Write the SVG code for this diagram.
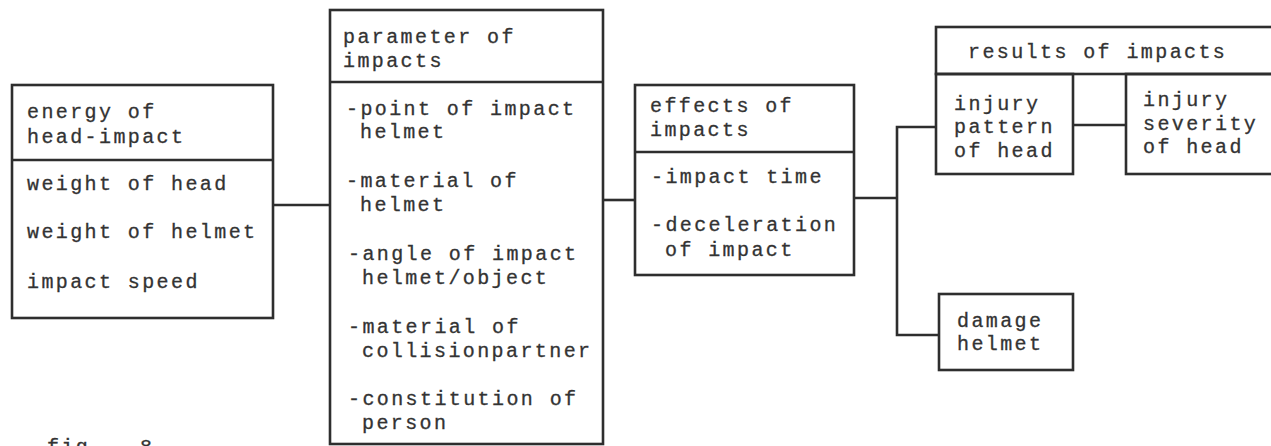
<svg xmlns="http://www.w3.org/2000/svg" width="1271" height="446" viewBox="0 0 1271 446">
  <style>
    .box { fill: none; stroke: #2e2e2e; stroke-width: 2.6; }
    .div { stroke: #2e2e2e; stroke-width: 2.6; }
    .wire { fill: none; stroke: #2e2e2e; stroke-width: 2.6; }
    text { font-family: "Liberation Mono", "Courier New", monospace; font-size: 20px; letter-spacing: 2.4px; fill: #333; stroke: #333; stroke-width: 0.3; }
  </style>
  <rect width="1271" height="446" fill="#ffffff"/>

  <!-- energy of head-impact -->
  <g id="energy">
    <rect class="box" x="12" y="85" width="261" height="233"/>
    <line class="div" x1="12" y1="160" x2="273" y2="160"/>
    <text x="27" y="118">energy of</text>
    <text x="27" y="143">head-impact</text>
    <text x="27" y="190">weight of head</text>
    <text x="27" y="238">weight of helmet</text>
    <text x="27" y="288">impact speed</text>
  </g>

  <!-- parameter of impacts -->
  <g id="parameter">
    <rect class="box" x="330" y="10" width="273" height="434"/>
    <line class="div" x1="330" y1="82" x2="603" y2="82"/>
    <text x="343" y="43">parameter of</text>
    <text x="343" y="67">impacts</text>
    <text x="346" y="115">-point of impact</text>
    <text x="360" y="138">helmet</text>
    <text x="346" y="187">-material of</text>
    <text x="360" y="211">helmet</text>
    <text x="348" y="260">-angle of impact</text>
    <text x="362" y="284">helmet/object</text>
    <text x="348" y="333">-material of</text>
    <text x="362" y="357">collisionpartner</text>
    <text x="348" y="405">-constitution of</text>
    <text x="362" y="429">person</text>
  </g>

  <!-- effects of impacts -->
  <g id="effects">
    <rect class="box" x="635" y="85" width="219" height="190"/>
    <line class="div" x1="635" y1="152" x2="854" y2="152"/>
    <text x="650" y="112">effects of</text>
    <text x="650" y="136">impacts</text>
    <text x="651" y="183">-impact time</text>
    <text x="651" y="231">-deceleration</text>
    <text x="665" y="256">of impact</text>
  </g>

  <!-- results of impacts -->
  <g id="results">
    <rect class="box" x="936" y="27" width="345" height="47"/>
    <text x="968" y="58">results of impacts</text>
  </g>

  <g id="pattern">
    <rect class="box" x="936" y="74" width="137" height="100"/>
    <text x="954" y="110">injury</text>
    <text x="954" y="133">pattern</text>
    <text x="954" y="157">of head</text>
  </g>

  <g id="severity">
    <rect class="box" x="1126" y="74" width="155" height="100"/>
    <text x="1143" y="106">injury</text>
    <text x="1143" y="130">severity</text>
    <text x="1143" y="153">of head</text>
  </g>

  <g id="damage">
    <rect class="box" x="939" y="294" width="134" height="76"/>
    <text x="957" y="327">damage</text>
    <text x="957" y="350">helmet</text>
  </g>

  <!-- connecting lines -->
  <g id="connectors">
    <path class="wire" d="M273 205 H330"/>
    <path class="wire" d="M603 200 H635"/>
    <path class="wire" d="M854 198 H897"/>
    <path class="wire" d="M936 127 H897 V335 H939"/>
    <path class="wire" d="M1073 125 H1126"/>
  </g>

  <!-- figure caption, running off the lower edge -->
  <text x="47" y="453">fig.<tspan x="140">8</tspan></text>
</svg>
